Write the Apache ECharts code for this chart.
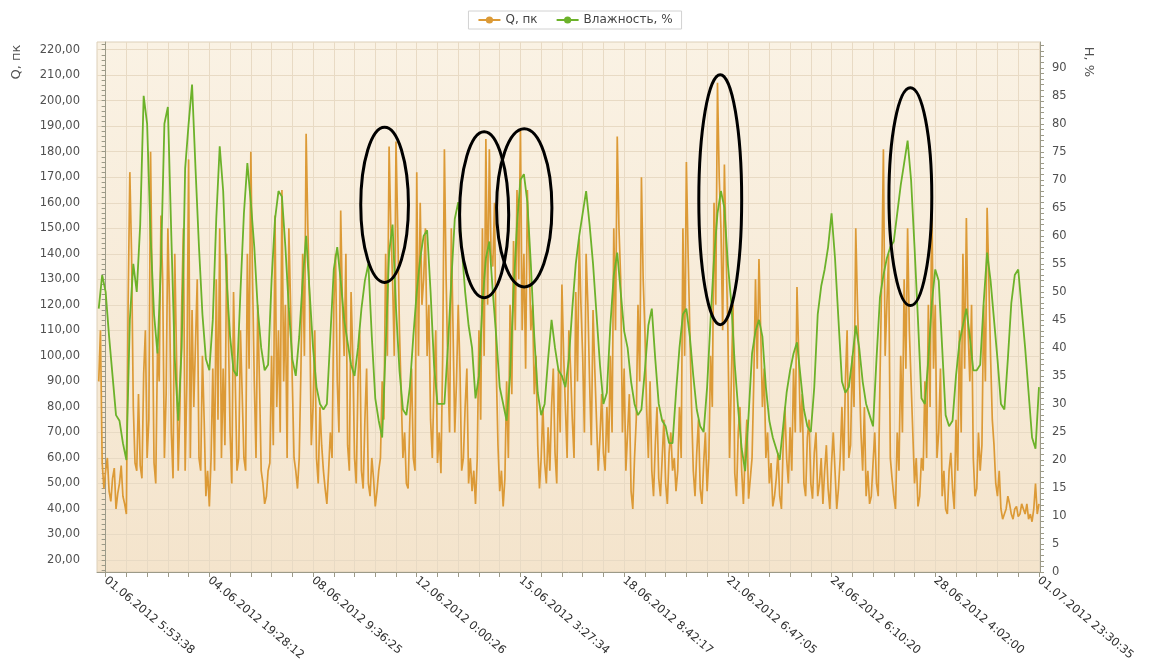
<!DOCTYPE html>
<html>
<head>
<meta charset="utf-8">
<script src="https://cdn.jsdelivr.net/npm/echarts@6/dist/echarts.min.js"></script>
<style>
  html, body { margin: 0; padding: 0; background: #ffffff; }
  #chart { width: 1150px; height: 666px; }
</style>
</head>
<body>
<div id="chart"></div>
<script>
// Series names (legend order)
const seriesNames = ['Q, пк', 'Влажность, %'];

// Sample timestamps shown on the x axis, one every 30 samples
const tickLabels = [
  '01.06.2012 5:53:38', '04.06.2012 19:28:12', '08.06.2012 9:36:25',
  '12.06.2012 0:00:26', '15.06.2012 3:27:34', '18.06.2012 8:42:17',
  '21.06.2012 6:47:05', '24.06.2012 6:10:20', '28.06.2012 4:02:00',
  '01.07.2012 23:30:35'
];
const samplesPerLabel = 30;

// Index of the first sample (two samples precede the first labelled one)
const firstIndex = -2;

// Q, пк (left axis), logged twice as often as humidity: one value every half sample
const qStep = 0.5;
const qValues = [
  90, 110, 58, 48,
  55, 60, 47, 43, 52, 56, 40, 46, 50, 57, 45, 42, 38, 120, 172, 140, 80, 58, 55, 85,
  57, 52, 93, 110, 60, 75, 180, 120, 58, 50, 103, 90, 155, 130, 60, 85, 150, 120, 70, 52,
  140, 100, 55, 80, 120, 150, 55, 90, 177, 60, 118, 80, 105, 130, 60, 55, 100, 75, 45, 55,
  41, 60, 95, 55, 130, 75, 150, 60, 95, 65, 140, 110, 70, 50, 125, 90, 55, 60, 110, 85,
  60, 55, 140, 95, 180, 130, 90, 60, 120, 90, 55, 50, 42, 45, 55, 58, 100, 65, 155, 80,
  110, 70, 165, 90, 120, 60, 150, 120, 90, 60, 55, 48, 60, 95, 140, 100, 187, 150, 120, 65,
  80, 110, 60, 50, 80, 65, 55, 48, 42, 55, 70, 60, 120, 140, 90, 70, 157, 120, 100, 140,
  65, 55, 125, 100, 60, 50, 90, 110, 55, 48, 75, 95, 50, 45, 60, 52, 41, 47, 55, 60,
  90, 75, 140, 100, 182, 150, 130, 100, 184, 150, 110, 85, 60, 70, 50, 48, 75, 95, 60, 55,
  172, 100, 160, 120, 130, 150, 100, 120, 75, 60, 90, 110, 58, 70, 54, 100, 181, 130, 95, 70,
  150, 110, 70, 90, 120, 95, 55, 60, 80, 95, 50, 60, 47, 55, 42, 60, 110, 75, 150, 100,
  185, 120, 181, 140, 135, 160, 95, 65, 47, 55, 41, 52, 90, 60, 120, 85, 145, 110, 165, 130,
  189, 110, 140, 95, 165, 140, 110, 120, 85, 100, 65, 48, 60, 80, 58, 50, 72, 55, 80, 95,
  62, 50, 95, 70, 128, 100, 80, 60, 110, 95, 75, 60, 125, 90, 146, 120, 100, 70, 140, 120,
  90, 65, 118, 95, 75, 55, 68, 85, 62, 55, 80, 62, 100, 70, 150, 110, 186, 150, 130, 70,
  95, 55, 70, 85, 47, 40, 60, 75, 120, 90, 170, 130, 110, 80, 60, 90, 55, 45, 65, 80,
  52, 45, 60, 75, 50, 42, 62, 70, 55, 60, 47, 55, 80, 60, 150, 100, 176, 140, 110, 80,
  55, 45, 62, 75, 48, 42, 58, 70, 47, 60, 100, 80, 160, 120, 207, 170, 150, 110, 175, 140,
  110, 60, 90, 120, 54, 45, 70, 80, 55, 42, 62, 75, 44, 52, 60, 90, 130, 95, 138, 110,
  80, 95, 60, 70, 50, 58, 41, 45, 52, 62, 45, 40, 65, 80, 60, 50, 72, 55, 95, 70,
  127, 100, 70, 85, 50, 45, 68, 75, 50, 44, 62, 70, 45, 50, 60, 42, 55, 65, 48, 40,
  58, 70, 55, 40, 48, 60, 80, 55, 90, 110, 60, 65, 100, 80, 150, 120, 95, 70, 55, 80,
  45, 55, 42, 45, 58, 70, 50, 45, 90, 130, 181, 100, 120, 140, 60, 52, 45, 40, 70, 55,
  100, 70, 130, 95, 150, 110, 90, 70, 50, 60, 41, 45, 60, 55, 90, 60, 120, 80, 165, 95,
  120, 60, 70, 95, 45, 55, 40, 38, 55, 62, 48, 40, 75, 55, 110, 70, 140, 95, 154, 110,
  90, 120, 60, 45, 48, 70, 55, 65, 120, 90, 158, 130, 100, 75, 65, 50, 45, 55, 40, 36,
  38, 40, 45, 42, 38, 36, 40, 41, 37, 38, 42, 40, 38, 42, 36, 38, 35, 40, 50, 38,
  42
];

// Влажность, % (right axis), one value per sample
const humidity = [
  47, 53,
  50, 42, 35, 28, 27, 23, 20, 45, 55, 50,
  62, 85, 80, 60, 46, 39, 55, 80, 83, 60,
  38, 27, 40, 72, 80, 87, 72, 58, 46, 38,
  36,
  45, 63, 76, 68, 52, 42, 36, 35, 50, 64,
  73, 66, 58, 47, 40, 36, 37, 52, 63, 68,
  67, 58, 47, 38, 35, 42, 52, 60, 50, 40,
  33, 30, 29, 30, 42, 54, 58, 52, 45, 41,
  37, 35, 40, 47, 52, 55, 42, 31, 27, 24,
  40, 57, 62, 47, 36, 29, 28, 33, 42, 50,
  56, 60, 61, 50, 37, 30, 30, 30, 40, 52,
  63, 66, 58, 50, 44, 40, 31, 35, 48, 56,
  59, 50, 42, 33, 30, 27, 35, 50, 62, 70,
  71, 66, 55, 42, 32, 28, 30, 38, 45, 40,
  36, 35, 33, 38, 47, 55, 60, 64, 68, 62,
  55, 46, 37, 30, 32, 44, 53, 57, 50, 43,
  40, 34, 30, 28, 29, 36, 44, 47, 38, 30,
  27, 26, 23, 23, 32, 40, 46, 47, 42, 35,
  29, 26, 25, 33, 45, 56, 64, 68, 65, 55,
  48, 37, 29, 22, 18, 28, 39, 43, 45, 42,
  33, 27, 24, 22, 20, 26, 32, 36, 39, 41,
  35, 29, 26, 25, 33, 46, 51, 54, 58, 64,
  56, 45, 34, 32, 33, 38, 44, 40, 34, 30,
  28, 26, 38, 49, 53, 56, 58, 59, 64, 69,
  73, 77, 70, 58, 45, 31, 30, 38, 48, 54,
  52, 40, 28, 26, 27, 35, 41, 44, 47, 42,
  36, 36, 37, 48, 57, 52, 45, 38, 30, 29,
  38, 48, 53, 54, 47, 40, 32, 24, 22, 33
];

// Hand-drawn ellipses around peaks: [sample index, Q value, half width (samples), half height (Q units)]
const highlights = [
  [80.7, 159.2, 6.9, 30.4],
  [109.5, 155.3, 7.1, 32.5],
  [121.1, 158.0, 8.0, 31.0],
  [177.8, 161.2, 6.2, 49.0],
  [232.8, 162.4, 6.2, 42.7]
];

// Axis ranges
const qRange = [15.3, 223];
const hRange = [0, 94.6];
const xRange = [-2.5, 270.3];

function range(from, to, step) {
  const out = [];
  for (let v = from; v <= to + 1e-9; v += step) out.push(+v.toFixed(4));
  return out;
}

const qLabelValues = range(20, 220, 10);
const qTickValues = range(16, 222, 2);
const hLabelValues = range(0, 90, 5);
const hTickValues = range(0, 94, 1);
const xLabelValues = tickLabels.map((_, i) => i * samplesPerLabel);
const xTickValues = range(0, (tickLabels.length - 1) * samplesPerLabel, samplesPerLabel / 5);

const qData = qValues.map((v, i) => [firstIndex + i * qStep, v]);
const hData = humidity.map((v, i) => [firstIndex + i, v]);

const FONT = 'DejaVu Sans';
const axisColor = '#9c9a88';
const labelColor = '#505050';
const gridLineColor = '#e8dac4';

const chart = echarts.init(document.getElementById('chart'), null, { renderer: 'canvas' });

const option = {
  animation: false,
  backgroundColor: '#ffffff',
  textStyle: { fontFamily: FONT },
  legend: {
    data: seriesNames,
    top: 11,
    left: 'center',
    padding: [3, 9],
    itemGap: 18,
    itemWidth: 22,
    itemHeight: 9,
    borderColor: '#d2d2d2',
    borderWidth: 1,
    backgroundColor: '#ffffff',
    textStyle: { fontFamily: FONT, fontSize: 12, color: '#444444' }
  },
  grid: {
    left: 97,
    right: 110,
    top: 42,
    bottom: 94,
    show: true,
    borderColor: '#dccfb8',
    borderWidth: 1,
    backgroundColor: new echarts.graphic.LinearGradient(0, 0, 0, 1, [
      { offset: 0, color: '#faf2e4' },
      { offset: 1, color: '#f4e4cc' }
    ])
  },
  xAxis: [{
    type: 'value',
    min: xRange[0],
    max: xRange[1],
    axisLine: { show: true, onZero: false, lineStyle: { color: axisColor } },
    axisTick: { show: true, customValues: xTickValues, length: 5, lineStyle: { color: axisColor } },
    axisLabel: {
      customValues: xLabelValues,
      rotate: -40,
      margin: 7,
      fontFamily: FONT,
      fontSize: 11.5,
      color: '#2e2e2e',
      formatter: (v) => tickLabels[Math.round(v / samplesPerLabel)] || ''
    },
    splitLine: { show: true, lineStyle: { color: gridLineColor, width: 1 } }
  }],
  yAxis: [{
    type: 'value',
    position: 'left',
    min: qRange[0],
    max: qRange[1],
    axisLine: { show: true, lineStyle: { color: axisColor } },
    axisTick: { show: true, customValues: qTickValues, length: 4, lineStyle: { color: axisColor } },
    axisLabel: {
      customValues: qLabelValues,
      margin: 17,
      fontFamily: FONT,
      fontSize: 11.5,
      color: labelColor,
      formatter: (v) => v.toFixed(2).replace('.', ',')
    },
    splitLine: { show: false }
  }, {
    type: 'value',
    position: 'right',
    min: hRange[0],
    max: hRange[1],
    axisLine: { show: true, lineStyle: { color: axisColor } },
    axisTick: { show: true, customValues: hTickValues, length: 4, lineStyle: { color: axisColor } },
    axisLabel: {
      customValues: hLabelValues,
      margin: 12,
      fontFamily: FONT,
      fontSize: 11.5,
      color: labelColor
    },
    splitLine: { show: false }
  }, {
    // horizontal grid lines every 10 units of Q
    type: 'value',
    position: 'left',
    min: qRange[0],
    max: qRange[1],
    axisLine: { show: false },
    axisTick: { show: false, customValues: qLabelValues },
    axisLabel: { show: false },
    splitLine: { show: true, lineStyle: { color: gridLineColor, width: 1 } }
  }],
  series: [{
    name: seriesNames[0],
    type: 'line',
    xAxisIndex: 0,
    yAxisIndex: 0,
    data: qData,
    symbol: 'circle',
    symbolSize: 7,
    showSymbol: false,
    lineStyle: { color: '#dc9a36', width: 1.7 },
    itemStyle: { color: '#dc9a36' },
    z: 2
  }, {
    name: seriesNames[1],
    type: 'line',
    xAxisIndex: 0,
    yAxisIndex: 1,
    data: hData,
    symbol: 'circle',
    symbolSize: 7,
    showSymbol: false,
    lineStyle: { color: '#6cb22a', width: 1.8 },
    itemStyle: { color: '#6cb22a' },
    z: 3
  }]
};

chart.setOption(option);

// Axis titles and the ellipse annotations, placed through the chart's own scales
const ellipses = highlights.map(([cx, cy, hw, hh]) => {
  const c = chart.convertToPixel({ xAxisIndex: 0, yAxisIndex: 0 }, [cx, cy]);
  const e = chart.convertToPixel({ xAxisIndex: 0, yAxisIndex: 0 }, [cx + hw, cy + hh]);
  return {
    type: 'ellipse',
    shape: { cx: c[0], cy: c[1], rx: Math.abs(e[0] - c[0]), ry: Math.abs(c[1] - e[1]) },
    style: { fill: null, stroke: '#000000', lineWidth: 3 },
    z: 100
  };
});

chart.setOption({
  graphic: [
    {
      type: 'text',
      x: 17, y: 62,
      rotation: Math.PI / 2,
      style: { text: 'Q, пк', fontFamily: FONT, fontSize: 13, fill: '#505050', align: 'center', verticalAlign: 'middle' },
      z: 100
    },
    {
      type: 'text',
      x: 1088, y: 62,
      rotation: -Math.PI / 2,
      style: { text: 'H, %', fontFamily: FONT, fontSize: 13, fill: '#505050', align: 'center', verticalAlign: 'middle' },
      z: 100
    }
  ].concat(ellipses)
});
</script>
</body>
</html>
